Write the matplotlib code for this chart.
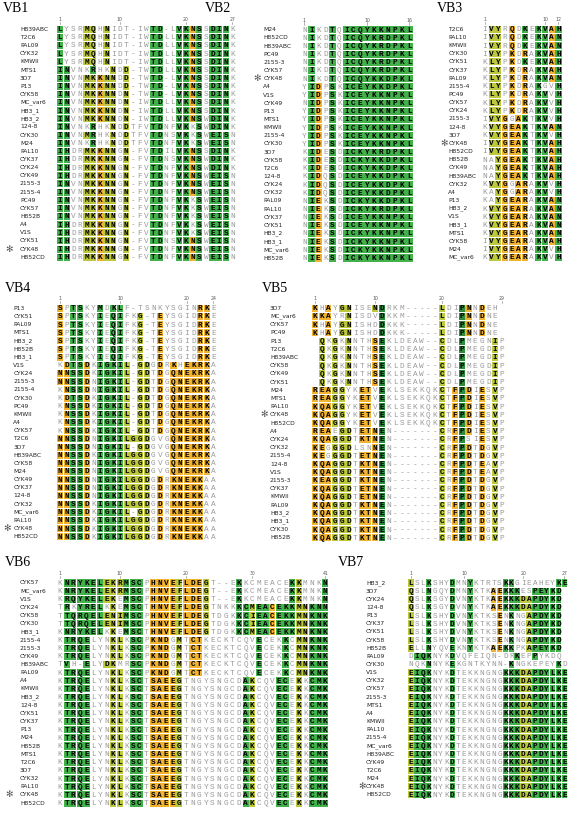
import matplotlib

matplotlib.use('Agg')
import matplotlib.pyplot as plt
from matplotlib.patches import Rectangle
from matplotlib import transforms

W, H = 576, 815

COLORS = {'G': '#42b04b', 'D': '#2b8c3c', 'y': '#bcc83e', 'l': '#d9e07c', 'o': '#f1b330'}

# ---------------- VB1 ----------------
VB1_NAMES = ["H839ABC", "T2C6", "PAL09", "CYK32", "KMWII", "MTS1", "3D7", "P13", "CYK58", "MC_var6",
             "HB3_1", "HB3_2", "124-8", "CYK30", "M24", "PAL10", "CYK37", "CYK24", "CYK49", "2155-3",
             "2155-4", "PC49", "CYK57", "H852B", "A4", "V1S", "CYK51", "CYK48", "H852CD"]
VB1_SEQS = ["LYSRMQHNIDT-IWTD-LVKNSSDINK",
            "LYSRMQHNIDT-IWTDLLVKNSSDINK",
            "LYSRMQHNIDT-IWTDLLVKNSSDINK",
            "LYSRMQHNIDT-IWTDLLVKNSSDINK",
            "LYSRMQHNIDT-IWTDLLVKNSSDINK",
            "INVNKRHKNDD-TWTDLLVKNSSDINK",
            "INVNMKKNNDD-TWTD-LVKNSSDINK",
            "INVNMKKNNDD-TWTD-LVKNSSDINK",
            "INVNMKKNNDN-TWTD-LVKNSSDINK",
            "INVNMKKNNDN-IWTDLLVKNSSDINK",
            "INVNMKKNNDN-IWTDLLVKNSSDINK",
            "INVNMKKNNDN-IWTDLLVKNSWDINK",
            "INVNKRHKNDDTFVTDNFVKKSWDINK",
            "INVNMRHKNDDTFVTDNSVKKSWEISN",
            "INVNKRHKNDDTFVTDNFVKKSWEISN",
            "IHDRMKKNNGN-FVTDILVKNSSDINK",
            "IHDRMKKNNGN-FVTDNSVKNSWDINK",
            "IHDRMKKNNGN-FVTDNFVKNSWDINK",
            "IHDRMKKNNGN-FVTDNFVKNSWEISN",
            "INVNMKKNNGN-FVTDNFVKNSWEISN",
            "INVNMKKNNGN-FVTDNFVKNSWEISN",
            "INVNMKKNNGN-FVTDNFVKKSWEISN",
            "INVNMKKNNGN-FVTDNFVKKSWEISN",
            "INVNMKKNNGN-FVTDNFVKKSWEISN",
            "IHDRMKKNNGN-FVTDNFVKKSWEISN",
            "IHDRMKKNNGN-FVTDNFVKKSWEISN",
            "IHDRMKKNNGN-FVTDNSVKNSWEISN",
            "IHDRMKKNNGN-FVTDNFVKNSWEISN",
            "IHDRMKKNNGN-FVTDNFVKNSWEISN"]
VB1_COLS = ["G:LI", "G:NH", "", "", "y:M", "y:KQ G:R", "o:K", "y:N", "y:N", "", "y:DN", "", "", "",
            "G:T", "G:D", "", "", "G:V", "G:K", "o:N", "G:S", "", "G:DE", "G:I", "G:NS", ""]
VB1_RULER = [1, 10, 20, 27]

# ---------------- VB2 ----------------
VB2_NAMES = ["M24", "H852CD", "H839ABC", "PC49", "2155-3", "CYK57", "CYK48", "A4", "V1S", "CYK49",
             "P13", "MTS1", "KMWII", "2155-4", "CYK30", "3D7", "CYK58", "T2C6", "124-8", "CYK24",
             "CYK32", "PAL09", "PAL10", "CYK37", "CYK51", "HB3_2", "HB3_1", "MC_var6", "H852B"]
VB2_SEQS = ["NIKDTQICQYKKNPKL", "NIKDTQICQYKRDPKL", "NIKDTQICQYKRDPKL", "NIKDTQICQYKRDPKL",
            "NIKDTQICQYKRDPKL", "NIKDTQICQYKRDPKL", "NIKDTQICQYKKDPKL", "YIDPSKICEYKKDPKL",
            "YIDPSKICEYKKNPKL", "NIDPSKICEYKKNPKL", "YIDPSKICEYKKNPKL", "YIDPSKICEYKKNPKL",
            "YIDPSKICEYKKNPKL", "YIDPSKICEYKKNPKL", "YIDPSKICEYKKNPKL", "KIDESDICKYKRDPKL",
            "KIDESDICKYKKDPKL", "KIDESDICKYKKDPKL", "KIDQSDICEYKKDPKL", "KIDQSDICEYKKDPKL",
            "KIDQSDICEYKKDPKL", "NIEKSDICKYKKDPKL", "NIEKSDICKYKRDPKL", "NIEKSDICEYKKNPKL",
            "NIEKSDICEYKKNPKL", "NIEKSDICKYKKNPKL", "NIEKSDICKYKKNPKL", "NIEKSDICKYKKNPKL",
            "NIEKSDICKYKKNPKL"]
VB2_COLS = ["", "G:I", "o:DE", "", "G:TS", "", "G:*", "G:*", "G:*", "G:*", "G:*", "G:*", "G:*",
            "G:*", "G:*", "G:*"]
VB2_RULER = [1, 10, 16]

# ---------------- VB3 ----------------
VB3_NAMES = ["T2C6", "PAL10", "KMWII", "CYK30", "CYK51", "CYK37", "PAL09", "2155-4", "PC49", "CYK57",
             "CYK24", "2155-3", "124-8", "3D7", "CYK48", "H852CD", "H852B", "CYK49", "H839ABC", "CYK32",
             "A4", "P13", "HB3_2", "V1S", "HB3_1", "MTS1", "CYK58", "M24", "MC_var6"]
VB3_SEQS = ["IVYRQDKEKVAH", "IVYRQDKEKVAN", "IVYRQDKEKVAN", "IVYPKDRAKVAH", "KLYPKDKEKVAH",
            "KLYPKDRAKVAH", "KLYPKDRAKVAN", "KLYPKDRAKGVH", "KLYPKDRAKVVH", "KLYPKDRAKVVH",
            "KLYPKDRAKVVH", "IVYGGAKTKVVH", "KVYGEAKTKVAN", "KVYGEAKTKVVH", "IVYGEAKTKVAH",
            "IVYGEAKTKVAH", "NAYGEAKTKVAH", "NAYGEAKTKVAH", "NAYGEAKTKVAH", "KVYGGARAKVVH",
            "KAYGGARAKVVH", "KAYGEARAKVAN", "KVYGEARAKVAN", "KVYGEARAKVAN", "KVYGEARAKVAN",
            "KVYGEARAKVAN", "IVYGEARAKVAH", "IVYGEARAKVVH", "KVYGEARAKVVH"]
VB3_COLS = ["", "y:VL", "y:Y", "o:G", "o:QKE", "o:A", "G:K o:R", "", "G:K", "G:V", "o:A", "G:HN"]
VB3_RULER = [1, 10, 12]

# ---------------- VB4 ----------------
VB4_NAMES = ["P13", "CYK51", "PAL09", "MTS1", "HB3_2", "H852B", "HB3_1", "V1S", "CYK24", "2155-3",
             "2155-4", "CYK30", "PC49", "KMWII", "A4", "CYK57", "T2C6", "3D7", "H839ABC", "CYK58",
             "M24", "CYK49", "CYK37", "124-8", "CYK32", "MC_var6", "PAL10", "CYK48", "H852CD"]
VB4_SEQS = ["SPTSKYMDKLF-TSNKYSGINRKE",
            "SPTSKYIEQIFKG-TEYSGIDRKE", "SPTSKYIEQIFKG-TEYSGIDRKE", "SPTSKYIEQIFKG-TEYSGIDRKE",
            "SPTSKYIEQIFKG-TEYSGIDRKE", "SPTSKYIEQIFKG-TEYSGIDRKE", "SPTSKYIEQIFKG-TEYSGIDRKE",
            "KDTSDKIGKIL-GDGDRKHEKRKA", "NNSSDKIGKIL-GDTDGQNEKRKA", "NNSSDNIGKIL-GDTDGQNEKRKA",
            "KNSSDNIGKIL-GDTDGQNEKRKA", "KDTSDKIGKIL-GDTDGQNEKRKA", "KNSSDKIGKIL-GDTDGQNEKRKA",
            "KNSSDKIGKIL-GDTDGQNEKRKA", "KNSSDKIGKIL-GDTDGQNEKRKA", "KNSSDKIGKIL-GDTDGQNEKRKA",
            "NNSSDNIGKILGGDGVGQNEKRKA", "NNSSDNIGKIL-GDGVGQNEKRKA", "NNSSDKIGKILGGDGVGQNEKRKA",
            "NNSSDNIGKILGGDGVGQNEKRKA", "NNSSDNIGKILGGDGVGQNEKRKA", "NNSSDNIGKILGGDGDRKNEKKAA",
            "NNSSDNIGKILGGDGDRKNEKKAA", "NNSSDNIGKILGGDGDRKNEKKAA", "NNSSDKIGKILGGDGDRKNEKKAA",
            "NNSSDKIGKIL-GDGDRKNEKKAA", "NNSSDKIGKILGGDGDRKNEKKAA", "NNSSDKIGKILGGDGDRKNEKKAA",
            "NNSSDKIGKILGGDGDRKNEKKAA"]
VB4_COLS = ["o:SN", "o:DN", "G:TS", "G:S", "o:D", "", "G:MI", "G:G", "G:KQ", "G:LI", "y:L", "y:G",
            "y:G", "y:D", "", "o:DE", "", "o:QK", "o:N", "o:E", "o:K", "o:RK", "o:K", ""]
VB4_RULER = [1, 10, 20, 24]

# ---------------- VB5 ----------------
VB5_NAMES = ["3D7", "MC_var6", "CYK57", "PC49", "P13", "T2C6", "H839ABC", "CYK58", "CYK49", "CYK51",
             "M24", "MTS1", "PAL10", "CYK48", "H852CD", "A4", "CYK24", "CYK32", "2155-4", "124-8",
             "V1S", "2155-3", "CYK37", "KMWII", "PAL09", "HB3_2", "HB3_1", "CYK30", "H852B"]
VB5_SEQS = ["KHAYGNISENDRKM-----LDIPNNDEH ",
            "KKAYRNISDVDKKM-----LDIPNNDNE ",
            "KHAYGNISHDDKKK-----LDIPNNDNE ",
            "KHAYGNISHDDKKK-----LDIPNNDNE ",
            " QKGKNNTHSEKLDEAW--CDLPMEGNIP",
            " QKGKNNTHSEKLDEAW--CDLPMEGDIP",
            " QKGKNNTHSEKLDEAW--CDLPMEGDIP",
            " QKGKNNTHSEKLDEAW--CDLPMEGDIP",
            " QKGKNNTHSEKLDEAW--CDLPMEGDIP",
            " QKGKNNTHSEKLDEAW--CDLPMEGDIP",
            "REAGGYKETVEKLSEKKQKCTFPDIESVP",
            "REAGGYKETVEKLSEKKQKCTFPDIESVP",
            "KQAGGYKETVEKLSEKKQKCTFPDIESVP",
            "KQAGGYKETVEKLSEKKQKCTFPDIESVP",
            "KQAGGYKETVEKLSEKKQKCTFPDIESVP",
            "REAEGDTETNEN-------CRFPDIESVP",
            "KQAGGDTKTNEN-------CRFPSIESVP",
            "KEGGGDLSNNEN-------CRFPDTDGVP",
            "KEGGGDTETNEN-------CRFPDTDGVP",
            "KQAGGDTKTNEN-------CRFPDTEAVP",
            "KQAGGDTKTNEN-------CRFPDTEAVP",
            "KEAGGDTKTNEN-------CRFPDTDGVP",
            "KQAGGDTETNEN-------CRFPDTDGVP",
            "KQAGGDTETNEN-------CRFPDTDGVP",
            "KQAGGDTKTNEN-------CRFPDTDGVP",
            "KQAGGDTKTNEN-------CRFPDTDGVP",
            "KQAGGDTKTNEN-------CRFPDTDGVP",
            "KQAGGDTKTNEN-------CRFPDTDGVP",
            "KQAGGDTKTNEN-------CRFPDTDGVP"]
VB5_SHADE = ["o.o.yy...yD........y..Do.o...",
             "ooo..y....D........y..Do.o...",
             "o.o.yy....D........y..Do.o...",
             "o.o.yy....D........y..Do.o...",
             ".y.y.y...oD........y..D....y.",
             ".y.y.y...oD........y..D....y.",
             ".y.y.y...oD........y..D....y.",
             ".y.y.y...oD........y..D....y.",
             ".y.y.y...oD........y..D....y.",
             ".y.y.y...oD........y..D....y.",
             "oooyy..oo.D........y.oDo.o.y.",
             "oooyy..oo.D........y.oDo.o.y.",
             "oooyy..oo.D........y.oDo.o.y.",
             "oooyy..oo.D........y.oDo.o.y.",
             "oooyy..oo.D........y.oDo.o.y.",
             "ooo.yy.oooD........y.oDo.o.y.",
             "oooyyy.oooD........y.oD..o.y.",
             "oo.yyy...oD........y.oDo.o.y.",
             "oo.yyy.oooD........y.oDo.o.y.",
             "oooyyy.oooD........y.oDo.o.y.",
             "oooyyy.oooD........y.oDo.o.y.",
             "oooyyy.oooD........y.oDo.o.y.",
             "oooyyy.oooD........y.oDo.o.y.",
             "oooyyy.oooD........y.oDo.o.y.",
             "oooyyy.oooD........y.oDo.o.y.",
             "oooyyy.oooD........y.oDo.o.y.",
             "oooyyy.oooD........y.oDo.o.y.",
             "oooyyy.oooD........y.oDo.o.y.",
             "oooyyy.oooD........y.oDo.o.y."]
VB5_RULER = [1, 10, 20, 29]

# ---------------- VB6 ----------------
VB6_NAMES = ["CYK57", "MC_var6", "V1S", "CYK24", "CYK58", "CYK30", "HB3_1", "2155-4", "2155-3", "CYK49",
             "H839ABC", "PAL09", "A4", "KMWII", "HB3_2", "124-8", "CYK51", "CYK37", "P13", "M24",
             "H852B", "MTS1", "T2C6", "3D7", "CYK32", "PAL10", "CYK48", "H852CD"]
VB6_SEQS = ["KNRYKELEKRMSCPHNVEFLDEGT--EKKCMEACEKKMNKN",
            "KNRYKELEKRMSCPHNVEFLDEGT--EKKCMEACEKKMNKN",
            "KRQYKELEKEMSCPHNVEFLDEGT--EKKCMEACEKKMNKN",
            "TRKYRELKKEMSCTHNVEFLDEGTNKKKCMEACEKKMNKNN",
            "TTQRQELENIMSCPHNVEFLDEGTDGKKCIEACEKKMNKNK",
            "TTQRQELENIMSCPHNVEFLDEGTDGKKCIEACEKKMNKNK",
            "KNRYKELKKEMSCTHNVEFLDEGTDGKKCMEACEKKMNKNK",
            "KTRQELYNKLKSCPKNDGMTCTKECKTCQVECEKKCMNKNK",
            "KTRQELYNKLKSCPKNDGMTCTKECKTCQVECEKKCMNKNK",
            "KTRQELYNKLKSCPKNDGMTCTKECKTCQVECEKKCMNKNK",
            "TVH-ELYDKMRSCPKNDGMTCTKECKTCQVECEKKCMNKNK",
            "KTRQELYNKLKSCPKNDGMTCTKECKTCQVECEKKCMNKNK",
            "KTRQELYNKLKSCTSAEEGTNGYSNGCDAKCQVECEKKCMK",
            "KTRQELYNKLKSCTSAEEGTNGYSNGCDAKCQVECEKKCMK",
            "KTRQELYNKLKSCTSAEEGTNGYSNGCDAKCQVECEKKCMK",
            "KTRQELYNKLKSCTSAEEGTNGYSNGCDAKCQVECEKKCMK",
            "KTRQELYNKLKSCTSAEEGTNGYSNGCDAKCQVECEKKCMK",
            "KTRQELYNKLKSCTSAEEGTNGYSNGCDAKCQVECEKKCMK",
            "KTRQELYNKLKSCTSAEEGTNGYSNGCDAKCQVECEKKCMK",
            "KTRQELYNKLKSCTSAEEGTNGYSNGCDAKCQVECEKKCMK",
            "KTRQELYNKLKSCTSAEEGTNGYSNGCDAKCQVECEKKCMK",
            "KTRQELYNKLKSCTSAEEGTNGYSNGCDAKCQVECEKKCMK",
            "KTRQELYNKLKSCTSAEEGTNGYSNGCDAKCQVECEKKCMK",
            "KTRQELYNKLKSCTSAEEGTNGYSNGCDAKCQVECEKKCMK",
            "KTRQELYNKLKSCTSAEEGTNGYSNGCDAKCQVECEKKCMK",
            "KTRQELYNKLKSCTSAEEGTNGYSNGCDAKCQVECEKKCMK",
            "KTRQELYNKLKSCTSAEEGTNGYSNGCDAKCQVECEKKCMK",
            "KTRQELYNKLKSCTSAEEGTNGYSNGCDAKCQVECEKKCMK"]
VB6_COLS = ["", "G:NTVR", "G:RTQ", "G:YRQ", "G:KREQ", "G:E", "G:L", "y:EYD", "y:KN", "y:RIL", "G:M",
            "G:S", "G:C", "", "o:HKS", "o:NA", "o:VDE", "o:E", "y:FMG", "o:L", "o:DC", "o:ET",
            "y:G", "", "", "", "", "G:K", "G:CA", "y:MIK", "G:E", "G:AV", "o:C", "G:E", "G:KC",
            "G:K", "y:MCK", "y:N", "G:KC", "G:NM", "G:NK"]
VB6_RULER = [1, 10, 20, 30, 41]

# ---------------- VB7 ----------------
VB7_NAMES = ["HB3_2", "3D7", "CYK24", "124-8", "P13", "CYK37", "CYK51", "CYK58", "H852B", "PAL09",
             "CYK30", "V1S", "CYK32", "CYK57", "2155-3", "MTS1", "A4", "KMWII", "PAL10", "2155-4",
             "MC_var6", "H839ABC", "CYK49", "T2C6", "M24", "CYK48", "H852CD"]
VB7_SEQS = ["LSLKSHYDMNYKTRTSKKGIEAHEYKE",
            "QSLNGQYDMNYKTKAEKKKESPEYKD ",
            "QSLKSGYDVNYKTKAEKKKDAPDYKD ",
            "QSLKSGYDVNYKTKAEKKKDAPDYKD ",
            "LSLKSHYDVNYKTKSENKNGAPDYKD ",
            "LSLKSHYDVNYKTKSENKNGAPDYKD ",
            "LSLKSHYDVNYKTKSENKNGAPDYKD ",
            "LSLKSHYDVNYKTKSENKNGAPDYKD ",
            "ELLNYQVEKNYKTKAEKKPKAPEYKD ",
            "DIQKNYKDVQFEIQN-DRKEPPYKDQ ",
            "NQKNNYKEKGNTKYNN-KNGKEPEYKD",
            "EIQKNYKDTEKKNGNGKKKDAPDYLKE",
            "EIQKNYKDTEKKNGNGKKKDAPDYLKE",
            "EIQKNYKDTEKKNGNGKKKDAPDYLKE",
            "EIQKNYKDTEKKNGNGKKKDAPDYLKE",
            "EIQKNYKDTEKKNGNGKKKDAPDYLKE",
            "EIQKNYKDTEKKNGNGKKKDAPDYLKE",
            "EIQKNYKDTEKKNGNGKKKDAPDYLKE",
            "EIQKNYKDTEKKNGNGKKKDAPDYLKE",
            "EIQKNYKDTEKKNGNGKKKDAPDYLKE",
            "EIQKNYKDTEKKNGNGKKKDAPDYLKE",
            "EIQKNYKDTEKKNGNGKKKDAPDYLKE",
            "EIQKNYKDTEKKNGNGKKKDAPDYLKE",
            "EIQKNYKDTEKKNGNGKKKDAPDYLKE",
            "EIQKNYKDTEKKNGNGKKKDAPDYLKE",
            "EIQKNYKDTEKKNGNGKKKDAPDYLKE",
            "EIQKNYKDTEKKNGNGKKKDAPDYLKE"]
VB7_COLS = ["y:ELQ", "G:I", "G:Q", "G:KN", "", "", "", "G:DE", "", "", "G:Y", "",
            "", "", "o:A", "o:E", "G:K", "G:K", "G:K", "y:D", "y:A", "G:P", "G:DE", "G:Y",
            "G:KL", "G:DK", "G:E"]
VB7_RULER = [1, 10, 20, 27]

MARKED = "CYK48"


def parse_spec(spec):
    out = {}
    for tok in spec.split():
        code, res = tok.split(':')
        for r in res:
            out[r] = code
    return out


def shade_from_columns(seqs, colspecs):
    maps = [parse_spec(s) for s in colspecs]
    rows = []
    for s in seqs:
        row = ''
        for i, ch in enumerate(s):
            if ch in ' -':
                row += '.'
            else:
                row += maps[i].get(ch, maps[i].get('*', '.'))
        rows.append(row)
    return rows


# layout in pixels: first column centre x, column step, first row centre y, row step,
# name x, star x, title x, title y
PANELS = [
    ("VB1", VB1_NAMES, VB1_SEQS, shade_from_columns(VB1_SEQS, VB1_COLS), VB1_RULER,
     (60, 6.63, 29.3, 8.14, 20, 5, 3, 8)),
    ("VB2", VB2_NAMES, VB2_SEQS, shade_from_columns(VB2_SEQS, VB2_COLS), VB2_RULER,
     (304.3, 7.0, 29.8, 8.15, 263.3, 253, 205, 8)),
    ("VB3", VB3_NAMES, VB3_SEQS, shade_from_columns(VB3_SEQS, VB3_COLS), VB3_RULER,
     (485, 6.67, 29.3, 8.15, 448.3, 440, 437, 8)),
    ("VB4", VB4_NAMES, VB4_SEQS, shade_from_columns(VB4_SEQS, VB4_COLS), VB4_RULER,
     (60, 6.67, 308.3, 8.16, 13.3, 3.3, 5, 288)),
    ("VB5", VB5_NAMES, VB5_SEQS, VB5_SHADE, VB5_RULER,
     (315, 6.67, 308.3, 8.2, 270, 260, 262, 288)),
    ("VB6", VB6_NAMES, VB6_SEQS, shade_from_columns(VB6_SEQS, VB6_COLS), VB6_RULER,
     (60, 6.63, 583, 8.15, 20, 5, 5, 562)),
    ("VB7", VB7_NAMES, VB7_SEQS, shade_from_columns(VB7_SEQS, VB7_COLS), VB7_RULER,
     (411, 5.9, 583, 8.15, 366, 358, 338, 562)),
]

fig = plt.figure(figsize=(W / 100, H / 100), dpi=100)
fig.patch.set_facecolor('white')


def draw_panel(title, names, seqs, shades, ruler, geo):
    x1, dx, y1, dy, name_x, star_x, tx, ty = geo
    ncol = max(len(s) for s in seqs)
    nrow = len(seqs)
    left = x1 - dx / 2
    top = y1 - dy / 2
    ax = fig.add_axes([left / W, 1 - (top + nrow * dy) / H, ncol * dx / W, nrow * dy / H])
    ax.set_xlim(0.5, ncol + 0.5)
    ax.set_ylim(nrow + 0.5, 0.5)
    ax.axis('off')

    for r, (seq, sh) in enumerate(zip(seqs, shades), start=1):
        for c, (ch, code) in enumerate(zip(seq, sh), start=1):
            if ch == ' ':
                continue
            if code != '.':
                ax.add_patch(Rectangle((c - 0.47, r - 0.43), 0.94, 0.86, facecolor=COLORS[code],
                                       edgecolor='none'))
                ax.text(c, r + 0.05, ch, ha='center', va='center', fontsize=5.6,
                        family='Liberation Mono', weight='bold', color='black')
            else:
                ax.text(c, r + 0.05, ch, ha='center', va='center', fontsize=5.6,
                        family='Liberation Mono', color='#9a9a9a')

    trans = transforms.blended_transform_factory(fig.transFigure, ax.transData)
    for r, name in enumerate(names, start=1):
        t = fig.text(name_x / W, 0, name, transform=trans, fontsize=4.3, family='DejaVu Sans',
                     ha='left', va='center', color='#222222')
        t.set_position((name_x / W, r))
        if name == MARKED:
            t = fig.text(star_x / W, 0, '\u273b', transform=trans, fontsize=6.5,
                         family='DejaVu Sans', ha='left', va='center', color='#555555')
            t.set_position((star_x / W, r))

    for n in ruler:
        ax.text(n, 1 - 1.15, str(n), ha='center', va='center', fontsize=3.3,
                family='DejaVu Sans', color='#555555', clip_on=False)
        ax.plot([n, n], [1 - 0.92, 1 - 0.62], color='#777777', lw=0.4, clip_on=False)

    fig.text(tx / W, 1 - ty / H, title, fontsize=10, family='Liberation Serif',
             ha='left', va='center', color='black')


for p in PANELS:
    draw_panel(*p)

fig.savefig('out.png', dpi=100)
